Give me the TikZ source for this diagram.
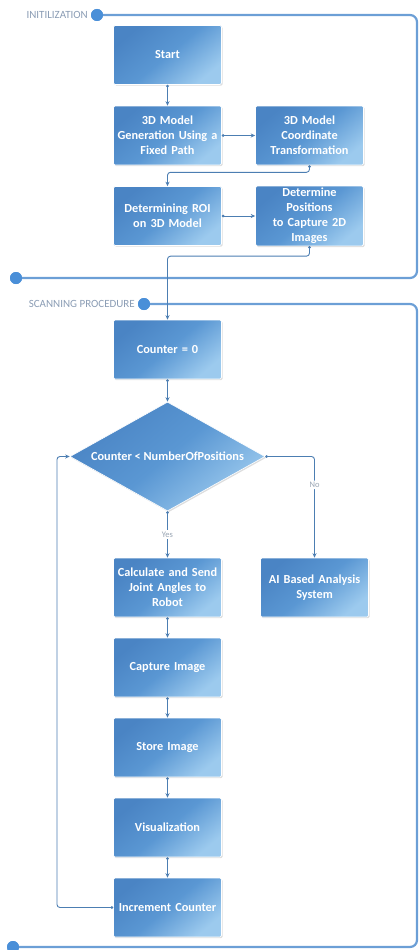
\documentclass[tikz,border=0pt]{standalone}
\usepackage{fontspec}
\setmainfont{Carlito}
\usetikzlibrary{arrows.meta,shapes.geometric,shadows,calc}
\definecolor{boxA}{HTML}{4A84C4}
\definecolor{boxM}{HTML}{5A97D3}
\definecolor{boxB}{HTML}{9CCAEE}
\definecolor{lanecol}{HTML}{6C9FD6}
\definecolor{dotcol}{HTML}{4A8FD8}
\definecolor{conncol}{HTML}{4C7EB2}
\definecolor{lanetext}{HTML}{8A9CB4}
\definecolor{labtext}{HTML}{9AA6B4}
\tikzset{
  procbox/.style={rectangle, minimum width=107pt, minimum height=59pt, inner sep=2pt,
    top color=boxA, bottom color=boxB, middle color=boxM, shading angle=40,
    draw=white, line width=0.6pt, rounded corners=1.5pt,
    drop shadow={shadow xshift=1.2pt, shadow yshift=-1.2pt, opacity=0.22, fill=black!60},
    text=white, font=\fontsize{12.3}{15}\selectfont\bfseries, align=center, text width=104pt},
  decbox/.style={diamond, minimum width=195pt, minimum height=109pt, inner sep=0pt, aspect=1.79,
    top color=boxA, bottom color=boxB, middle color=boxM, shading angle=40,
    draw=white, line width=0.6pt,
    drop shadow={shadow xshift=1.2pt, shadow yshift=-1.2pt, opacity=0.22, fill=black!60},
    text=white, font=\fontsize{12.3}{15}\selectfont\bfseries},
  conn/.style={draw=conncol, line width=0.9pt, rounded corners=3pt,
    {Circle[length=2.6pt]}-{Stealth[length=4.5pt,width=4pt]}},
  lane/.style={draw=lanecol, line width=2.2pt, rounded corners=7pt},
  lanedot/.style={circle, fill=dotcol, minimum size=12pt, inner sep=0pt},
  lanelabel/.style={text=lanetext, font=\fontsize{11}{13}\selectfont, inner sep=0pt},
  yn/.style={text=labtext, font=\fontsize{8.5}{10}\selectfont, fill=white, inner sep=1.5pt}
}
\begin{document}
\begin{tikzpicture}[x=1pt,y=-1pt]
\useasboundingbox (0,0) rectangle (419,950);
% lanes
\node[lanedot] (d1) at (97,15) {};
\node[lanedot] (d2) at (16,278) {};
\node[lanedot] (d3) at (144,304) {};
\node[lanedot] (d4) at (13,947) {};
\coordinate (c1a) at (417,15);
\coordinate (c1b) at (417,278);
\coordinate (c2a) at (417,304);
\coordinate (c2b) at (417,947);
\draw[lane] (d1.center) -- (c1a) -- (c1b) -- (d2.center);
\draw[lane] (d3.center) -- (c2a) -- (c2b) -- (d4.center);
\node[lanedot] at (d1) {};
\node[lanedot] at (d2) {};
\node[lanedot] at (d3) {};
\node[lanedot] at (d4) {};
\node[lanelabel, anchor=east] (l1) at (88,15) {INITILIZATION};
\node[lanelabel, anchor=east] (l2) at (135,304) {SCANNING PROCEDURE};
% nodes
\node[procbox] (start) at (167.5,55) {Start};
\node[procbox] (gen) at (167.5,135.5) {3D Model\\Generation Using a\\Fixed Path};
\node[procbox] (coord) at (309.5,135.5) {3D Model\\Coordinate\\Transformation};
\node[procbox] (roi) at (167.5,216) {Determining ROI\\on 3D Model};
\node[procbox] (detpos) at (309.5,216) {Determine\\Positions\\to Capture 2D\\Images};
\node[procbox] (cnt) at (167.5,349.5) {Counter = 0};
\node[decbox] (dec) at (167.5,456.5) {Counter < NumberOfPositions};
\node[procbox] (calc) at (167.5,587.5) {Calculate and Send\\Joint Angles to\\Robot};
\node[procbox] (ai) at (314.5,587.5) {AI Based Analysis\\System};
\node[procbox] (cap) at (167.5,667.5) {Capture Image};
\node[procbox] (store) at (167.5,747.5) {Store Image};
\node[procbox] (vis) at (167.5,827.5) {Visualization};
\node[procbox] (inc) at (167.5,907.5) {Increment Counter};
\coordinate (loopx) at (57,0);
% connectors
\draw[conn] (start.south) -- (gen.north);
\draw[conn] (gen.east) -- (coord.west);
\draw[conn] (coord.south) -- ++(0,7) -| (roi.north);
\draw[conn] (roi.east) -- (detpos.west);
\draw[conn] (detpos.south) -- ++(0,10) -| (cnt.north);
\draw[conn] (cnt.south) -- (dec.north);
\draw[conn] (dec.south) -- node[yn, pos=0.5]{Yes} (calc.north);
\draw[conn] (dec.east) -| node[yn, pos=0.64]{No} (ai.north);
\draw[conn] (calc.south) -- (cap.north);
\draw[conn] (cap.south) -- (store.north);
\draw[conn] (store.south) -- (vis.north);
\draw[conn] (vis.south) -- (inc.north);
\draw[conn] (inc.west) -- (inc.west -| loopx) -- (dec.west -| loopx) -- (dec.west);
\end{tikzpicture}
\end{document}
